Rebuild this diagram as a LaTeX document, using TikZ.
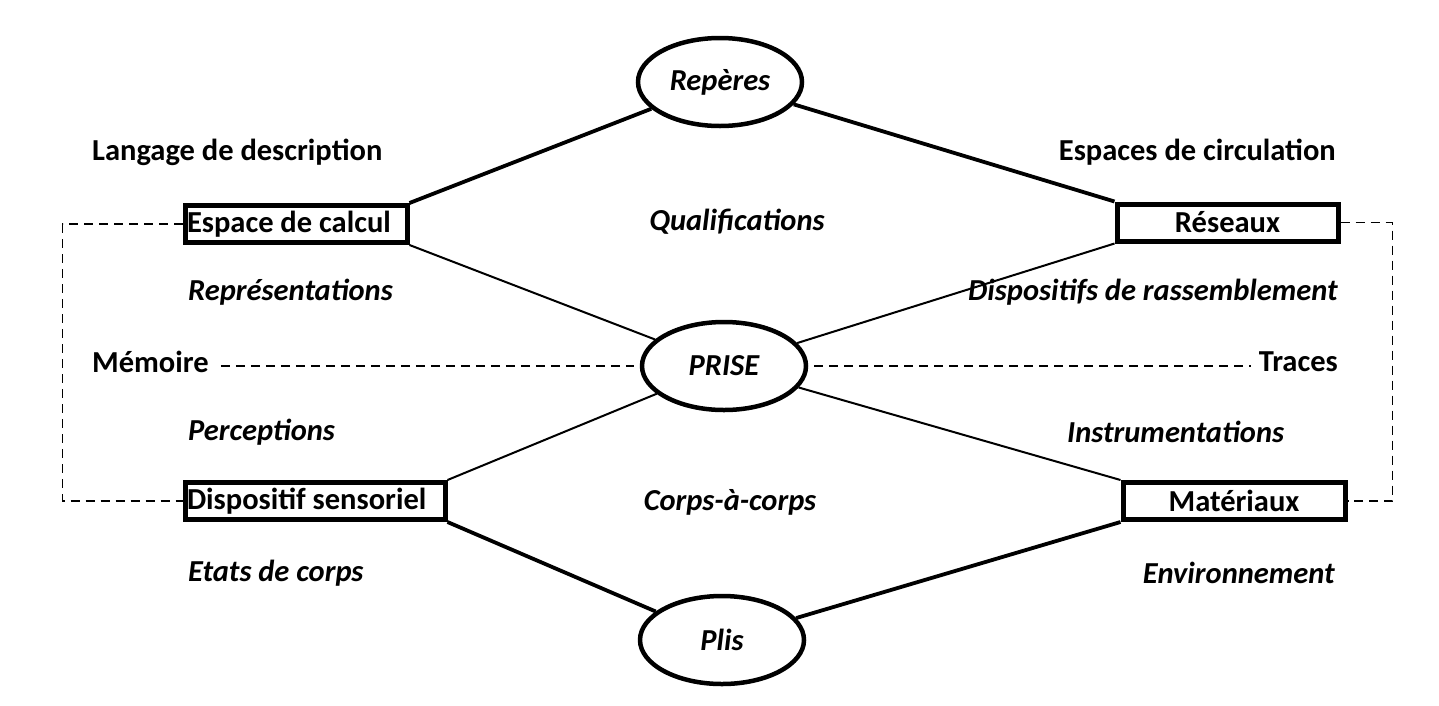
\documentclass[tikz,border=0pt]{standalone}
\usepackage{fontspec}
\setmainfont{Carlito}
\usetikzlibrary{shapes.geometric}
\begin{document}
\begin{tikzpicture}[x=1pt,y=-1pt,
  lbl/.style={inner sep=0pt,font=\fontsize{30.5}{34}\selectfont\bfseries},
  ilbl/.style={inner sep=0pt,font=\fontsize{30.5}{34}\selectfont\bfseries\itshape},
  oval/.style={ellipse,draw,line width=4.5pt,minimum width=164pt,minimum height=88pt,inner sep=0pt,font=\fontsize{30.5}{34}\selectfont\bfseries\itshape},
  box/.style={draw,line width=5pt,minimum height=37pt,inner sep=0pt,font=\fontsize{30.5}{34}\selectfont\bfseries},
  thick line/.style={line width=3.8pt},
  thin line/.style={line width=2pt},
  dash line/.style={line width=1.6pt,dash pattern=on 9pt off 6pt}
]
\fill[white] (0,0) rectangle (1439,705);
\useasboundingbox (0,0) rectangle (1439,705);

\node[oval] (rep) at (720,82) {Repères};
\node[oval] (prise) at (724,366) {PRISE};
\node[oval] (plis) at (722,640) {Plis};

\node[box,minimum width=222pt,text width=218pt,align=flush left] (ec) at (296,224) {Espace de calcul};
\node[box,minimum width=260pt,text width=256pt,align=flush left] (ds) at (315,501) {Dispositif sensoriel};
\node[box,minimum width=221pt] (res) at (1227.5,222.5) {Réseaux};
\node[box,minimum width=222pt] (mat) at (1234,501) {Matériaux};

\node[lbl,anchor=west] (lang) at (92,152) {Langage de description};
\node[lbl,anchor=east] (espc) at (1336,152) {Espaces de circulation};
\node[ilbl] (qual) at (737,222) {Qualifications};
\node[ilbl,anchor=west] (repr) at (188,292) {Représentations};
\node[ilbl,anchor=east] (dispr) at (1338,292) {Dispositifs de rassemblement};
\node[lbl,anchor=west] (mem) at (92,362) {Mémoire};
\node[lbl,anchor=east] (tr) at (1338,362) {Traces};
\node[ilbl,anchor=west] (perc) at (188,432) {Perceptions};
\node[ilbl,anchor=west] (instr) at (1067,432) {Instrumentations};
\node[ilbl] (corps) at (730,502) {Corps-à-corps};
\node[ilbl,anchor=west] (etats) at (188,573) {Etats de corps};
\node[ilbl,anchor=east] (env) at (1335,573) {Environnement};

\draw[thick line] (ec.north east) -- (rep);
\draw[thick line] (res.north west) -- (rep);
\draw[thin line] (ec.south east) -- (prise);
\draw[thin line] (res.south west) -- (prise);
\draw[thin line] (ds.north east) -- (prise);
\draw[thin line] (mat.north west) -- (prise);
\draw[thick line] (ds.south east) -- (plis);
\draw[thick line] (mat.south west) -- (plis);

\draw[dash line] (ec.west) -- ++(-120,0) |- (ds.west);
\draw[dash line] (res.east) -- ++(52,0) |- (mat.east);
\draw[dash line,shorten <=12pt,shorten >=6pt] (prise.west -| mem.east) -- (prise.west);
\draw[dash line,shorten <=6pt,shorten >=8pt] (prise.east) -- (prise.east -| tr.west);
\end{tikzpicture}
\end{document}
